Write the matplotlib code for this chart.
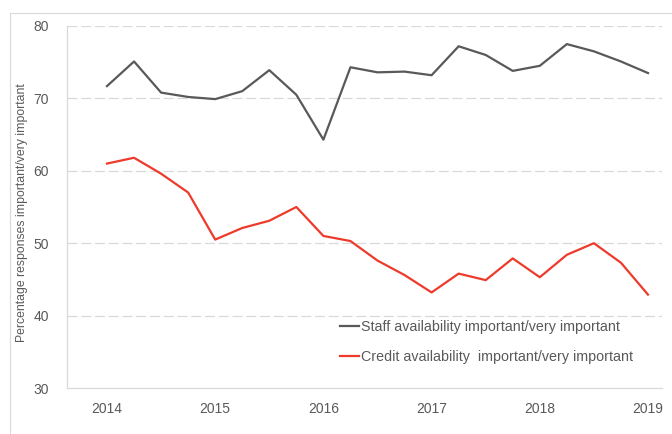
import matplotlib
matplotlib.use("Agg")
import matplotlib.pyplot as plt
from matplotlib.lines import Line2D
import numpy as np

plt.rcParams["font.family"] = ["Liberation Sans", "DejaVu Sans"]

# quarterly survey, 2014 Q1 .. 2019 Q1
quarters = 2014 + np.arange(21) / 4
staff = [71.7, 75.1, 70.8, 70.2, 69.9, 71.0, 73.9, 70.5, 64.3, 74.3, 73.6,
         73.7, 73.2, 77.2, 76.0, 73.8, 74.5, 77.5, 76.5, 75.1, 73.5]
credit = [61.0, 61.8, 59.6, 57.0, 50.5, 52.1, 53.1, 55.0, 51.0, 50.3, 47.6,
          45.6, 43.2, 45.8, 44.9, 47.9, 45.3, 48.4, 50.0, 47.3, 42.9]
year_ticks = [2014, 2015, 2016, 2017, 2018, 2019]
y_ticks = [30, 40, 50, 60, 70, 80]

TEXT = "#595959"
GRID = "#d9d9d9"

fig = plt.figure(figsize=(6.72, 4.34), dpi=100)

# outer chart-area frame (only top and left edges fall inside the image)
fig.add_artist(Line2D([10 / 672, 10 / 672], [0, 1 - 13 / 434],
                      transform=fig.transFigure, color=GRID, lw=0.8))
fig.add_artist(Line2D([10 / 672, 1], [1 - 13 / 434, 1 - 13 / 434],
                      transform=fig.transFigure, color=GRID, lw=0.8))

ax = fig.add_axes([67 / 672, 1 - 388 / 434, 595 / 672, 362 / 434])

ax.plot(quarters, staff, color="#595959", lw=1.6,
        label="Staff availability important/very important")
ax.plot(quarters, credit, color="#ee3a2b", lw=1.6,
        label="Credit availability  important/very important")

ax.set_xlim(2014 - 40 / 108.2, 2014 + 555 / 108.2)
ax.set_ylim(30, 80)
ax.set_xticks(year_ticks)
ax.set_yticks(y_ticks)
ax.tick_params(length=0, labelsize=10, labelcolor=TEXT)
ax.tick_params(axis="x", pad=10)
ax.tick_params(axis="y", pad=13)

for y in y_ticks[1:]:
    ax.axhline(y, color=GRID, lw=0.9, dashes=(8, 3), zorder=0)

for side in ["top", "right"]:
    ax.spines[side].set_visible(False)
for side in ["left", "bottom"]:
    ax.spines[side].set_color(GRID)
    ax.spines[side].set_linewidth(0.9)

ax.set_ylabel("Percentage responses important/very important",
              fontsize=8.8, color=TEXT)
ax.yaxis.set_label_coords((28 - 67) / 595, (388 - 213) / 362)

ax.legend(loc="upper left", bbox_to_anchor=((340 - 67) / 595, (388 - 320) / 362),
          frameon=False, fontsize=10.3, labelcolor=TEXT, handlelength=1.3,
          handletextpad=0.2, labelspacing=1.1, borderpad=0, borderaxespad=0)

fig.savefig("out.png", dpi=100)
